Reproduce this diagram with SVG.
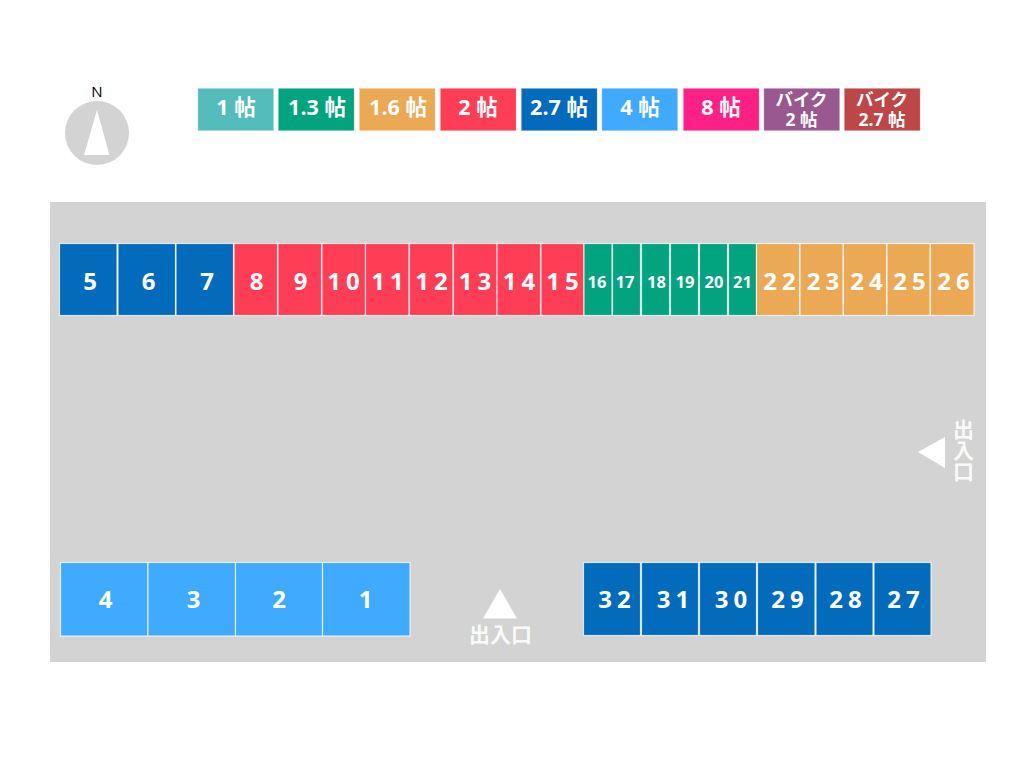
<svg xmlns="http://www.w3.org/2000/svg" width="1034" height="764" viewBox="0 0 1034 764">
<style>
text{font-family:"Open Sans","Noto Sans CJK JP",sans-serif;font-weight:700;fill:#fff;text-anchor:middle}
.s{stroke:#fff;stroke-opacity:.75;stroke-width:1.2}
.n{font-size:24px}
.w{font-size:24px;letter-spacing:5px}
.m{font-size:16.5px}
.l{font-size:21.5px}
.b{font-size:17.5px}
.e{font-size:21px;fill-opacity:.9}
.blue{fill:#026bbb}.red{fill:#ff3d55}.green{fill:#02a37f}.orange{fill:#eba955}.sky{fill:#3faaff}
</style>
<rect id="lot" x="50" y="202" width="936" height="460" fill="#d3d3d3"/>
<g id="compass"><circle cx="97" cy="133" r="32" fill="#d3d3d3"/><polygon points="97,110 109.500,155 84,155" fill="#fff"/><text x="97" y="97" style="fill:#000;font-weight:400;font-size:15px">N</text></g>
<g id="legend">
<g id="legend-1"><rect class="s" x="197.5" y="88" width="76.5" height="43" fill="#55bcbc"/><text class="l" x="236" y="115">1 帖</text></g>
<g id="legend-1-3"><rect class="s" x="278" y="88" width="76.5" height="43" fill="#02a37f"/><text class="l" x="317" y="115">1.3 帖</text></g>
<g id="legend-1-6"><rect class="s" x="359" y="88" width="76.5" height="43" fill="#eba955"/><text class="l" x="398" y="115">1.6 帖</text></g>
<g id="legend-2"><rect class="s" x="440" y="88" width="76.5" height="43" fill="#ff3d55"/><text class="l" x="478" y="115">2 帖</text></g>
<g id="legend-2-7"><rect class="s" x="521" y="88" width="76.5" height="43" fill="#026bbb"/><text class="l" x="559" y="115">2.7 帖</text></g>
<g id="legend-4"><rect class="s" x="601.5" y="88" width="76.5" height="43" fill="#3faaff"/><text class="l" x="640" y="115">4 帖</text></g>
<g id="legend-8"><rect class="s" x="683" y="88" width="76.5" height="43" fill="#ff2085"/><text class="l" x="721" y="115">8 帖</text></g>
<g id="legend-bike-2"><rect class="s" x="763.5" y="88" width="76.5" height="43" fill="#9a5890"/><text class="b"><tspan x="801.5" y="106">バイク</tspan><tspan x="801.5" y="125.500">2 帖</tspan></text></g>
<g id="legend-bike-2-7"><rect class="s" x="844" y="88" width="76.5" height="43" fill="#bd4646"/><text class="b"><tspan x="882" y="106">バイク</tspan><tspan x="882" y="125.500">2.7 帖</tspan></text></g>
</g>
<g id="row-top">
<g id="s5"><rect class="s blue" x="59.5" y="243.5" width="57.5" height="72"/><text class="n" x="90" y="290">5</text></g>
<g id="s6"><rect class="s blue" x="118" y="243.5" width="57.5" height="72"/><text class="n" x="148.500" y="290">6</text></g>
<g id="s7"><rect class="s blue" x="176" y="243.5" width="57.5" height="72"/><text class="n" x="207" y="290">7</text></g>
<g id="s8"><rect class="s red" x="234" y="243.5" width="43.500" height="72"/><text class="n" x="256.500" y="290">8</text></g>
<g id="s9"><rect class="s red" x="278" y="243.5" width="43.500" height="72"/><text class="n" x="300.500" y="290">9</text></g>
<g id="s10"><rect class="s red" x="322" y="243.5" width="43.500" height="72"/><text class="w" x="346" y="290">10</text></g>
<g id="s11"><rect class="s red" x="365.500" y="243.5" width="43.500" height="72"/><text class="w" x="390" y="290">11</text></g>
<g id="s12"><rect class="s red" x="409.500" y="243.5" width="43.500" height="72"/><text class="w" x="434" y="290">12</text></g>
<g id="s13"><rect class="s red" x="453.500" y="243.5" width="43.500" height="72"/><text class="w" x="477.500" y="290">13</text></g>
<g id="s14"><rect class="s red" x="497" y="243.5" width="43.500" height="72"/><text class="w" x="521.500" y="290">14</text></g>
<g id="s15"><rect class="s red" x="541" y="243.5" width="43" height="72"/><text class="w" x="565" y="290">15</text></g>
<g id="s16"><rect class="s green" x="584" y="243.5" width="28" height="72"/><text class="m" x="597" y="288">16</text></g>
<g id="s17"><rect class="s green" x="612.5" y="243.5" width="28" height="72"/><text class="m" x="625" y="288">17</text></g>
<g id="s18"><rect class="s green" x="641.5" y="243.5" width="28" height="72"/><text class="m" x="656.500" y="288">18</text></g>
<g id="s19"><rect class="s green" x="670.500" y="243.5" width="28" height="72"/><text class="m" x="685" y="288">19</text></g>
<g id="s20"><rect class="s green" x="699.500" y="243.5" width="28" height="72"/><text class="m" x="714" y="288">20</text></g>
<g id="s21"><rect class="s green" x="728.500" y="243.5" width="28" height="72"/><text class="m" x="742.500" y="288">21</text></g>
<g id="s22"><rect class="s orange" x="756.500" y="243.5" width="43" height="72"/><text class="w" x="782" y="290">22</text></g>
<g id="s23"><rect class="s orange" x="800" y="243.5" width="43" height="72"/><text class="w" x="825.500" y="290">23</text></g>
<g id="s24"><rect class="s orange" x="843.500" y="243.5" width="43" height="72"/><text class="w" x="869" y="290">24</text></g>
<g id="s25"><rect class="s orange" x="887" y="243.5" width="43" height="72"/><text class="w" x="912" y="290">25</text></g>
<g id="s26"><rect class="s orange" x="930.500" y="243.5" width="43.500" height="72"/><text class="w" x="956" y="290">26</text></g>
</g>
<g id="row-bottom-left">
<g id="s4"><rect class="s sky" x="60.500" y="562.5" width="87.500" height="73.500"/><text class="n" x="105.500" y="607.500">4</text></g>
<g id="s3"><rect class="s sky" x="148" y="562.5" width="87.500" height="73.500"/><text class="n" x="193.500" y="607.500">3</text></g>
<g id="s2"><rect class="s sky" x="235.500" y="562.5" width="87" height="73.500"/><text class="n" x="279" y="607.500">2</text></g>
<g id="s1"><rect class="s sky" x="322.500" y="562.5" width="87.500" height="73.500"/><text class="n" x="365.500" y="607.500">1</text></g>
</g>
<g id="row-bottom-right">
<g id="s32"><rect class="s blue" x="583.500" y="562.5" width="57" height="73"/><text class="w" x="617" y="607.500">32</text></g>
<g id="s31"><rect class="s blue" x="641.500" y="562.5" width="57" height="73"/><text class="w" x="675.500" y="607.500">31</text></g>
<g id="s30"><rect class="s blue" x="699.500" y="562.5" width="57" height="73"/><text class="w" x="733.500" y="607.500">30</text></g>
<g id="s29"><rect class="s blue" x="757.500" y="562.5" width="57.500" height="73"/><text class="w" x="790" y="607.500">29</text></g>
<g id="s28"><rect class="s blue" x="816" y="562.5" width="57" height="73"/><text class="w" x="848" y="607.500">28</text></g>
<g id="s27"><rect class="s blue" x="874" y="562.5" width="57" height="73"/><text class="w" x="906" y="607.500">27</text></g>
</g>
<g id="entrance-south"><polygon points="500,589 517,618.500 483,618.500" fill="#fff"/><text class="e" x="500.500" y="642">出入口</text></g>
<g id="entrance-east"><polygon points="918,452 945,437 945,468" fill="#fff"/><text class="e" x="962.500" y="450" style="writing-mode:vertical-rl">出入口</text></g>
<g id="connectors"/>
</svg>
